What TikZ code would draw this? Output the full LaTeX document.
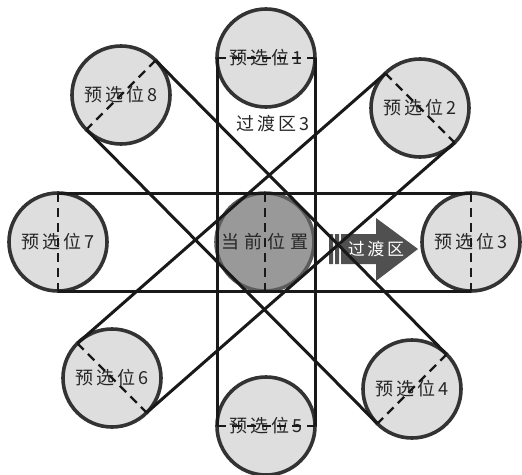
\documentclass[tikz,border=0pt]{standalone}
\usepackage{fontspec}
\usepackage{xcolor}
\usepackage{tikz}
\newfontfamily\cjk[LetterSpace=15]{Noto Sans CJK SC}
\newfontfamily\cjkwide[LetterSpace=28]{Noto Sans CJK SC}
\definecolor{slot}{RGB}{222,222,222}
\definecolor{current}{RGB}{153,153,153}
\definecolor{rim}{RGB}{51,51,51}
\definecolor{shiftzone}{RGB}{80,80,80}

\begin{document}
\begin{tikzpicture}[x=1pt, y=-1pt,
    slotpos/.style={draw=rim, fill=slot, circle, line width=3.6pt, minimum size=98pt,
        inner sep=1pt, outer sep=0pt, text=black!85, font=\fontsize{18}{20}\selectfont\cjk},
    band/.style={line width=3pt, black!90},
    axisline/.style={line width=2.4pt, black!90, dash pattern=on 9pt off 6pt}]
    \useasboundingbox (0,0) rectangle (522,474);

    % preselected positions
    \node[slotpos] (p1) at (266,58) {预选位1};
    \node[slotpos] (p2) at (420,108) {预选位2};
    \node[slotpos] (p3) at (471,242) {预选位3};
    \node[slotpos] (p4) at (412,389) {预选位4};
    \node[slotpos] (p5) at (266,426) {预选位5};
    \node[slotpos] (p6) at (112,378) {预选位6};
    \node[slotpos] (p7) at (58,242) {预选位7};
    \node[slotpos] (p8) at (121,95) {预选位8};
    \node[slotpos, fill=current, draw=rim!80, font=\fontsize{18}{20}\selectfont\cjkwide] (c0) at (265,242) {当前位置};

    % transition zone arrow
    \fill[shiftzone] (341,234) -- (376,234) -- (376,218) -- (418,249) -- (376,281)
        -- (376,264) -- (341,264) -- cycle;
    \fill[shiftzone] (329,234) rectangle (333,264) (335,234) rectangle (339,264);
    \node[text=white, font=\fontsize{17}{19}\selectfont\cjk] (gd) at (376,249) {过渡区};
    \node[text=black!85, font=\fontsize{18}{20}\selectfont\cjk] (gd3) at (273,124) {过渡区3};

    % bands
    \draw[band] (p1.west) -- (p5.west) (p1.east) -- (p5.east);
    \draw[band] (p7.north) -- (p3.north) (p7.south) -- (p3.south);
    \draw[band] (p8.45) -- (p4.45) (p8.-135) -- (p4.-135);
    \draw[band] (p2.135) -- (p6.135) (p2.-45) -- (p6.-45);

    % dashed diameters
    \draw[axisline] (p1.west) -- (p1.east);
    \draw[axisline] (p5.west) -- (p5.east);
    \draw[axisline] (p7.north) -- (p7.south);
    \draw[axisline] (p3.north) -- (p3.south);
    \draw[axisline] (c0.north) -- (c0.south);
    \draw[axisline] (p8.45) -- (p8.-135);
    \draw[axisline] (p4.45) -- (p4.-135);
    \draw[axisline] (p2.135) -- (p2.-45);
    \draw[axisline] (p6.135) -- (p6.-45);
\end{tikzpicture}
\end{document}
